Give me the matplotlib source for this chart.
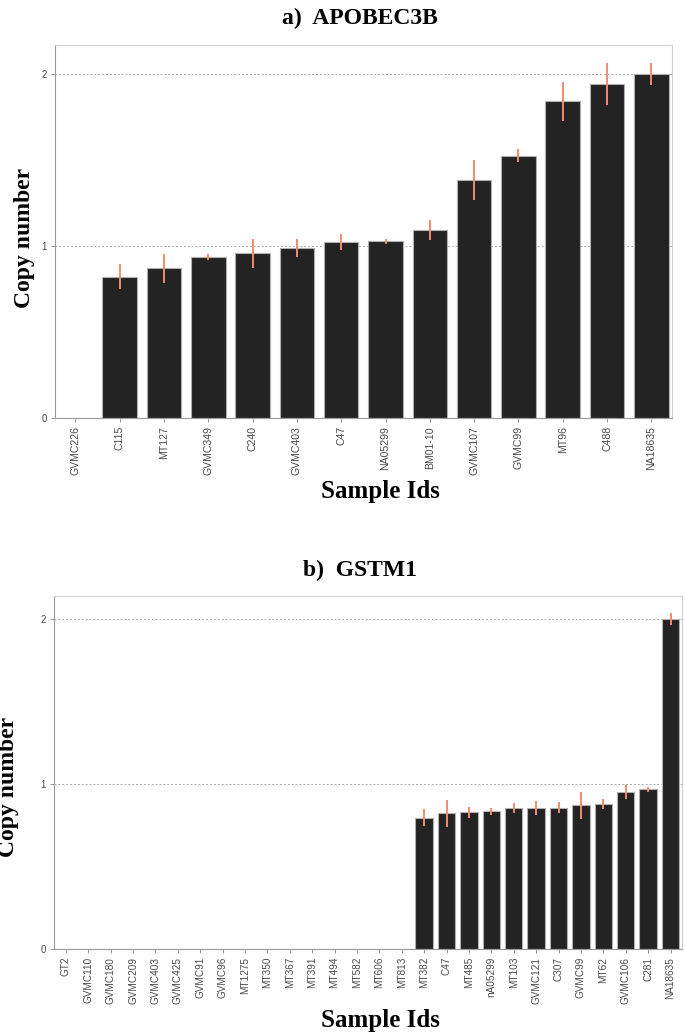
import numpy as np
import matplotlib
matplotlib.use('Agg')
import matplotlib.pyplot as plt

# a) APOBEC3B
apobecIds = ['GVMC226', 'C115', 'MT127', 'GVMC349', 'C240', 'GVMC403', 'C47',
             'NA05299', 'BM01-10', 'GVMC107', 'GVMC99', 'MT96', 'C488', 'NA18635']
apobecCn  = [0.0, 0.82, 0.87, 0.934, 0.957, 0.99, 1.023,
             1.027, 1.093, 1.383, 1.524, 1.843, 1.942, 2.0]
apobecErr = [0.0, 0.073, 0.085, 0.018, 0.083, 0.053, 0.045,
             0.015, 0.056, 0.117, 0.038, 0.113, 0.121, 0.064]

# b) GSTM1
gstmIds = ['GT2', 'GVMC110', 'GVMC180', 'GVMC209', 'GVMC403', 'GVMC425', 'GVMC91',
           'GVMC96', 'MT1275', 'MT350', 'MT367', 'MT391', 'MT494', 'MT582', 'MT606',
           'MT813', 'MT382', 'C47', 'MT485', 'nA05299', 'MT103', 'GVMC121', 'C307',
           'GVMC99', 'MT62', 'GVMC106', 'C281', 'NA18635']
gstmCn  = [0.0] * 16 + [0.795, 0.821, 0.827, 0.833, 0.854, 0.856, 0.856,
                        0.870, 0.879, 0.951, 0.968, 2.0]
gstmErr = [0.0] * 16 + [0.053, 0.082, 0.032, 0.023, 0.030, 0.042, 0.035,
                        0.082, 0.030, 0.040, 0.015, 0.035]

barColor  = '#232323'
edgeColor = '#b0b0b0'
errColor  = '#f08c6e'
tickColor = '#4a4a4a'
serif = ['Liberation Serif', 'DejaVu Serif']
sans  = ['Liberation Sans', 'DejaVu Sans']


def drawPanel(ax, ids, cn, err, ylim, xlim, labelSize):
    x = np.arange(len(ids))
    ax.bar(x, cn, width=0.78, color=barColor, edgecolor=edgeColor, linewidth=0.8, zorder=2)
    nz = np.array(err) > 0
    ax.errorbar(x[nz], np.array(cn)[nz], yerr=np.array(err)[nz], fmt='none',
                ecolor=errColor, elinewidth=1.4, capsize=0, zorder=3)
    ax.set_xlim(*xlim)
    ax.set_ylim(0, ylim)
    ax.set_yticks([0, 1, 2])
    ax.set_xticks(x)
    ax.set_xticklabels(ids, rotation=90, fontfamily=sans, fontsize=labelSize, color=tickColor)
    for t in ax.get_yticklabels():
        t.set_fontfamily(sans)
        t.set_fontsize(7)
        t.set_color(tickColor)
    ax.tick_params(axis='both', length=3, width=0.6, color='#888888', pad=3)
    ax.yaxis.grid(True, linestyle=(0, (2, 2)), color='#aaaaaa', linewidth=0.7, zorder=0)
    ax.set_axisbelow(True)
    for side in ['top', 'right']:
        ax.spines[side].set_color('#d0d0d0')
    for side in ['left', 'bottom']:
        ax.spines[side].set_color('#999999')


fig = plt.figure(figsize=(6.85, 10.36), dpi=100)

ax1 = fig.add_axes([0.0803, 0.5968, 0.9003, 0.3598])
drawPanel(ax1, apobecIds, apobecCn, apobecErr, 2.17, (-0.46, 13.46), 7.6)

ax2 = fig.add_axes([0.0788, 0.0843, 0.9164, 0.3404])
drawPanel(ax2, gstmIds, gstmCn, gstmErr, 2.14, (-0.53, 27.5), 7.2)

fig.text(0.525, 1 - 18 / 1036, 'a)  APOBEC3B', ha='center', va='center',
         fontfamily=serif, fontweight='bold', fontsize=17)
fig.text(0.525, 1 - 570 / 1036, 'b)  GSTM1', ha='center', va='center',
         fontfamily=serif, fontweight='bold', fontsize=17)

fig.text(25 / 685, 1 - 238 / 1036, 'Copy number', rotation=90, ha='center', va='center',
         fontfamily=serif, fontweight='bold', fontsize=17)
fig.text(9 / 685, 1 - 787 / 1036, 'Copy number', rotation=90, ha='center', va='center',
         fontfamily=serif, fontweight='bold', fontsize=17)

fig.text(0.555, 1 - 492 / 1036, 'Sample Ids', ha='center', va='center',
         fontfamily=serif, fontweight='bold', fontsize=18)
fig.text(0.555, 1 - 1020 / 1036, 'Sample Ids', ha='center', va='center',
         fontfamily=serif, fontweight='bold', fontsize=18)

fig.savefig('out.png', dpi=100)
